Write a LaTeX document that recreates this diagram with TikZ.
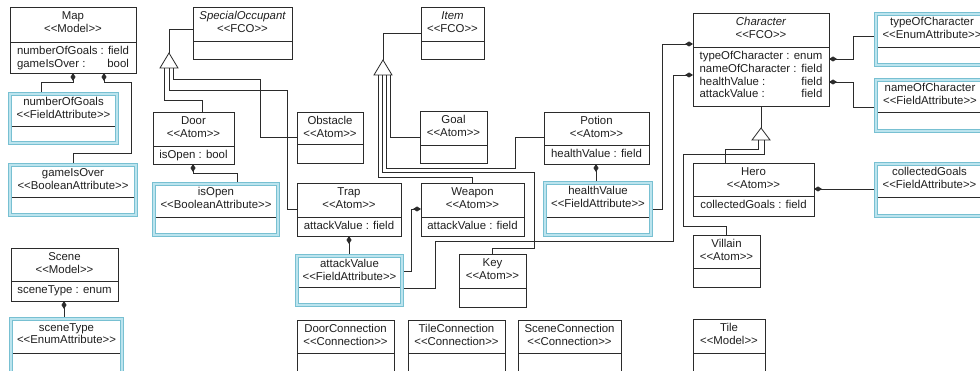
\documentclass[tikz,border=0pt]{standalone}
\usepackage{fontspec}
\setmainfont{Liberation Sans}
\usetikzlibrary{arrows.meta}
\definecolor{ln}{HTML}{2B2B2B}
\definecolor{attout}{RGB}{120,192,210}
\definecolor{attin}{RGB}{188,228,238}
\newcommand\stt[1]{<\kern0pt<#1>\kern0pt>}
\newlength\rwd
\newcommand\rr[2]{\makebox[\rwd][s]{#1\hfill#2}}
\pgfdeclarelayer{bg}\pgfdeclarelayer{lines}\pgfsetlayers{bg,lines,main}
\tikzset{
 clsbox/.style={draw=ln, line width=0.8pt, fill=white, inner sep=0pt, outer sep=0pt, rectangle},
 attbox/.style={draw=attout, double=attin, double distance=2pt, line width=0.9pt, fill=white, inner sep=0pt, outer sep=0pt, rectangle},
 divline/.style={draw=ln, line width=0.8pt},
 txt/.style={inner sep=0pt, outer sep=0pt, font=\fontsize{11.4}{12.8}\selectfont, text=black!88},
 conn/.style={draw=ln, line width=0.8pt},
 comp/.style={conn, {Diamond[length=8pt,width=5pt]}-},
 gentri/.style={draw=ln, line width=0.8pt, fill=white, line join=miter},
}
\newcommand\clsnode[8]{%
 \node[clsbox, anchor=north west, minimum width={#4-#2}, minimum height={#5-#3}] (#1) at (#2,#3) {};
 \draw[divline] (#2,#6) -- (#4,#6);
 \node[txt, anchor=base] (#1-t) at ([yshift=-12.5pt]#1.north) {#7};
 \node[txt, anchor=base] (#1-s) at ([yshift=-25.5pt]#1.north) {\stt{#8}};
}
\newcommand\attnode[8]{%
 \node[attbox, anchor=north west, minimum width={#4-#2}, minimum height={#5-#3}] (#1) at (#2,#3) {};
 \draw[divline] (#2+2.2,#6) -- (#4-2.2,#6);
 \node[txt, anchor=base] (#1-t) at ([yshift=-12pt]#1.north) {#7};
 \node[txt, anchor=base] (#1-s) at ([yshift=-24.5pt]#1.north) {\stt{#8}};
}
% name, top y, widest row, rows
\newcommand\rows[4]{%
 \node[txt, anchor=north] (#1-r) at (#1.center |- 0,#2) {\settowidth\rwd{#3}\begin{tabular}{@{}l@{}}#4\end{tabular}};
}
\begin{document}
\begin{tikzpicture}[x=1pt,y=-1pt]
\useasboundingbox (0,0) rectangle (980,371);
\begin{pgfonlayer}{bg}\fill[white] (0,0) rectangle (980,371);\end{pgfonlayer}

% classes
\clsnode{map}{10}{7}{136}{73}{42}{Map}{Model}
\rows{map}{45.5}{numberOfGoals : field}{\rr{numberOfGoals :}{field}\\ \rr{gameIsOver :}{bool}}
\clsnode{specocc}{193}{7}{292}{59}{41}{\itshape SpecialOccupant}{FCO}
\clsnode{item}{421}{7}{484}{59}{41}{\itshape Item}{FCO}
\clsnode{character}{693}{13}{829}{106}{47}{\itshape Character}{FCO}
\rows{character}{50.5}{typeOfCharacter : enum}{\rr{typeOfCharacter :}{enum}\\ \rr{nameOfCharacter :}{field}\\ \rr{healthValue :}{field}\\ \rr{attackValue :}{field}}
\clsnode{door}{153}{112}{234}{164}{146}{Door}{Atom}
\rows{door}{149.5}{isOpen : bool}{\rr{isOpen :}{bool}}
\clsnode{obstacle}{297}{112}{363}{163}{144}{Obstacle}{Atom}
\clsnode{goal}{420}{111}{487}{163}{145}{Goal}{Atom}
\clsnode{potion}{544}{112}{649}{164}{145}{Potion}{Atom}
\rows{potion}{148.5}{healthValue : field}{\rr{healthValue :}{field}}
\clsnode{trap}{297}{183}{401}{236}{217}{Trap}{Atom}
\rows{trap}{220.5}{attackValue : field}{\rr{attackValue :}{field}}
\clsnode{weapon}{421}{183}{524}{236}{217}{Weapon}{Atom}
\rows{weapon}{220.5}{attackValue : field}{\rr{attackValue :}{field}}
\clsnode{key}{459}{254}{526}{307}{288}{Key}{Atom}
\clsnode{hero}{693}{163}{814}{216}{196}{Hero}{Atom}
\rows{hero}{199.5}{collectedGoals : field}{\rr{collectedGoals :}{field}}
\clsnode{villain}{693}{235}{760}{287}{268}{Villain}{Atom}
\clsnode{scene}{11}{248}{118}{301}{281}{Scene}{Model}
\rows{scene}{284.5}{sceneType : enum}{\rr{sceneType :}{enum}}
\clsnode{doorconn}{297}{320}{394}{392}{353}{DoorConnection}{Connection}
\clsnode{tileconn}{408}{320}{505}{392}{353}{TileConnection}{Connection}
\clsnode{sceneconn}{518}{320}{621}{392}{353}{SceneConnection}{Connection}
\clsnode{tile}{693}{319}{765}{392}{353}{Tile}{Model}

% attribute boxes
\attnode{nog}{10}{94}{117}{143}{126}{numberOfGoals}{FieldAttribute}
\attnode{gio}{10}{165}{136}{215}{197}{gameIsOver}{BooleanAttribute}
\attnode{isopen}{154}{184}{278}{235}{217}{isOpen}{BooleanAttribute}
\attnode{atkv}{297}{256}{402}{305}{287}{attackValue}{FieldAttribute}
\attnode{hv}{545}{183}{651}{235}{217}{healthValue}{FieldAttribute}
\attnode{toc}{876}{14}{988}{65}{47}{typeOfCharacter}{EnumAttribute}
\attnode{noc}{876}{80}{984}{131}{112}{nameOfCharacter}{FieldAttribute}
\attnode{cg}{876}{164}{983}{216}{197}{collectedGoals}{FieldAttribute}
\attnode{st}{11}{319}{122}{385}{353}{sceneType}{EnumAttribute}

\begin{pgfonlayer}{lines}
% compositions
\draw[comp] (73,0 |- map.south) -- (73,82) -| (41,0 |- nog.north);
\draw[comp] (104,0 |- map.south) -- (104,82) -- (131,82) -- (131,153) -| (73,0 |- gio.north);
\draw[comp] (193,0 |- door.south) |- (237,173) -- (237,0 |- isopen.north);
\draw[comp] (349,0 |- trap.south) -- (349,0 |- atkv.north);
\draw[comp] (weapon.west |- 0,209) -- (411,209) |- (atkv.east |- 0,271);
\draw[comp] (character.west |- 0,75) -| (673,241) -| (435,288) -- (atkv.east |- 0,288);
\draw[comp] (596,0 |- potion.south) -- (596,0 |- hv.north);
\draw[comp] (character.west |- 0,44) -| (662,209) -- (hv.east |- 0,209);
\draw[comp] (character.east |- 0,59) -| (853,36) -- (toc.west |- 0,36);
\draw[comp] (character.east |- 0,82) -| (853,107) -- (noc.west |- 0,107);
\draw[comp] (hero.east |- 0,189) -- (cg.west |- 0,189);
\draw[comp] (64,0 |- scene.south) -- (64,0 |- st.north);
% generalisations: SpecialOccupant
\draw[conn] (169,53) |- (specocc.west |- 0,29);
\draw[conn] (164.5,68) |- (202,100) -- (202,0 |- door.north);
\draw[conn] (169,68) |- (287,90) |- (trap.west |- 0,209);
\draw[conn] (173.5,68) |- (260,79) |- (obstacle.west |- 0,137);
% Item
\draw[conn] (383,60) |- (item.west |- 0,33);
\draw[conn] (390,75) |- (goal.west |- 0,137);
\draw[conn] (386,75) |- (515,168) |- (potion.west |- 0,137);
\draw[conn] (382,75) |- (534,172) |- (492,248) -- (492,0 |- key.north);
\draw[conn] (378,75) |- (472,177) -- (472,0 |- weapon.north);
% Character
\draw[conn] (761,0 |- character.south) -- (761,128);
\draw[conn] (758,140) |- (725,149) -- (725,0 |- hero.north);
\draw[conn] (764,140) |- (683,154) |- (726,226) -- (726,0 |- villain.north);
\end{pgfonlayer}

\draw[gentri] (169,53) -- (178,68) -- (160,68) -- cycle;
\draw[gentri] (383,60) -- (392,75) -- (374,75) -- cycle;
\draw[gentri] (761,128) -- (770,140) -- (752,140) -- cycle;
\end{tikzpicture}
\end{document}
